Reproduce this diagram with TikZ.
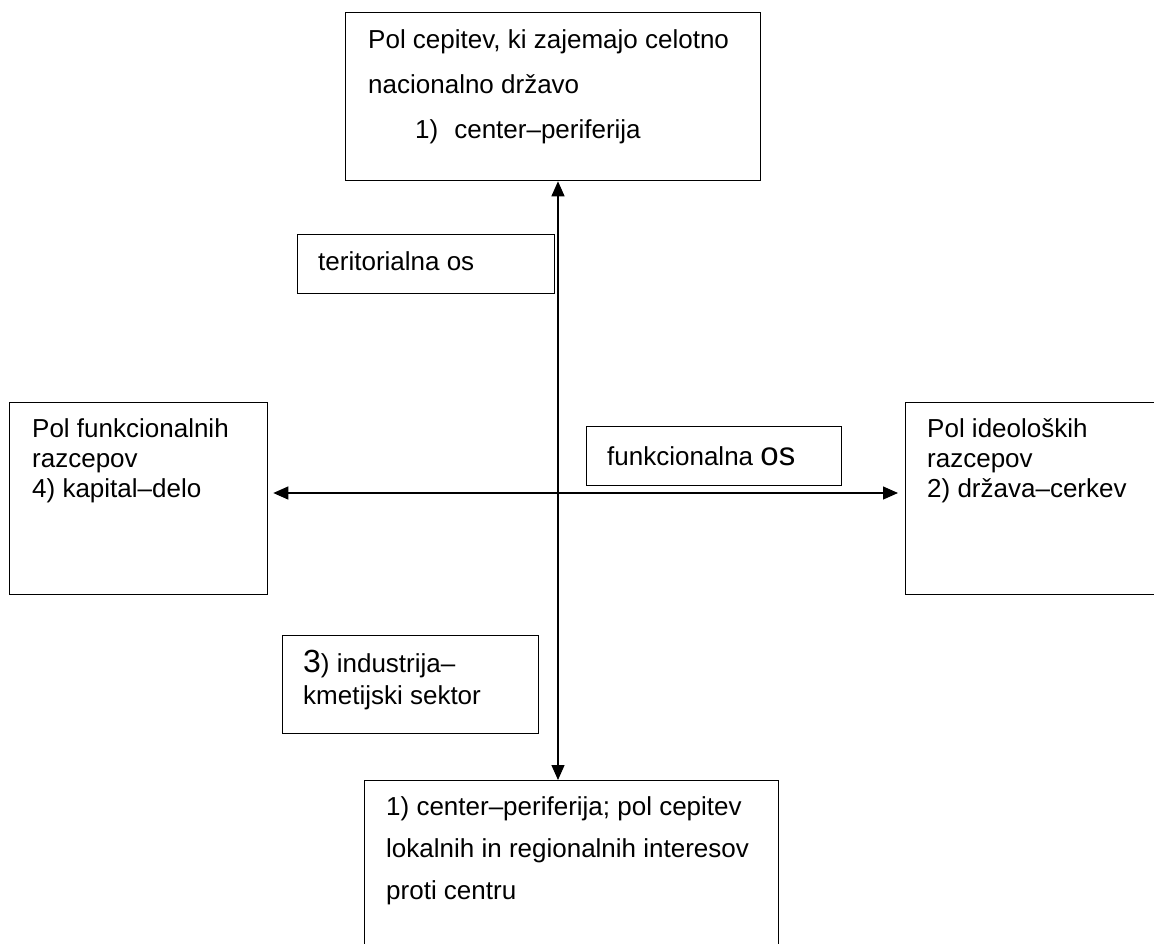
\documentclass[tikz,border=0pt]{standalone}
\usepackage{fontspec}
\setmainfont{Liberation Sans}
\usetikzlibrary{arrows.meta}
\begin{document}
\begin{tikzpicture}[x=1pt,y=-1pt,
  box/.style={draw,line width=1.3pt,rectangle,inner sep=0pt,anchor=north west},
  txt/.style={anchor=base west,inner sep=0pt,font=\fontsize{26}{30}\selectfont},
  axisarrow/.style={line width=1.3pt,{Triangle[length=15pt,width=13pt]}-{Triangle[length=15pt,width=13pt]}}]
\useasboundingbox (0,0) rectangle (1154,943);
\clip (0,0) rectangle (1154,943);
% boxes
\node[box,minimum width=415pt,minimum height=168pt] (top) at (345,12) {};
\node[box,minimum width=257pt,minimum height=59pt] (terr) at (297,234) {};
\node[box,minimum width=258pt,minimum height=192pt] (left) at (9,402) {};
\node[box,minimum width=255pt,minimum height=59pt] (func) at (586,426) {};
\node[box,minimum width=270pt,minimum height=192pt] (right) at (905,402) {};
\node[box,minimum width=256pt,minimum height=98pt] (ind) at (282,635) {};
\node[box,minimum width=414pt,minimum height=200pt] (bot) at (364,780) {};
% texts
\node[txt] (t1) at (368,48) {Pol cepitev, ki zajemajo celotno};
\node[txt] (t2) at (368,93) {nacionalno državo};
\node[txt] (t3) at (415,138) {1)\hspace{16pt}center–periferija};
\node[txt] (tr) at (318,270) {teritorialna os};
\node[txt] (l1) at (32,437) {Pol funkcionalnih};
\node[txt] (l2) at (32,467) {razcepov};
\node[txt] (l3) at (32,497) {4) kapital–delo};
\node[txt] (f1) at (607,465) {funkcionalna {\fontsize{33}{30}\selectfont os}};
\node[txt] (r1) at (927,437) {Pol ideoloških};
\node[txt] (r2) at (927,467) {razcepov};
\node[txt] (r3) at (927,497) {2) država–cerkev};
\node[txt] (i1) at (303,672) {{\fontsize{32}{30}\selectfont 3}) industrija–};
\node[txt] (i2) at (303,704) {kmetijski sektor};
\node[txt] (b1) at (386,815) {1) center–periferija; pol cepitev};
\node[txt] (b2) at (386,857) {lokalnih in regionalnih interesov};
\node[txt] (b3) at (386,899) {proti centru};
% axes
\coordinate (vx) at (558,0);
\coordinate (hy) at (0,493);
\draw[axisarrow] (vx |- top.south) -- (vx |- bot.north);
\draw[axisarrow,shorten <=5pt,shorten >=7pt] (hy -| left.east) -- (hy -| right.west);
\end{tikzpicture}
\end{document}
